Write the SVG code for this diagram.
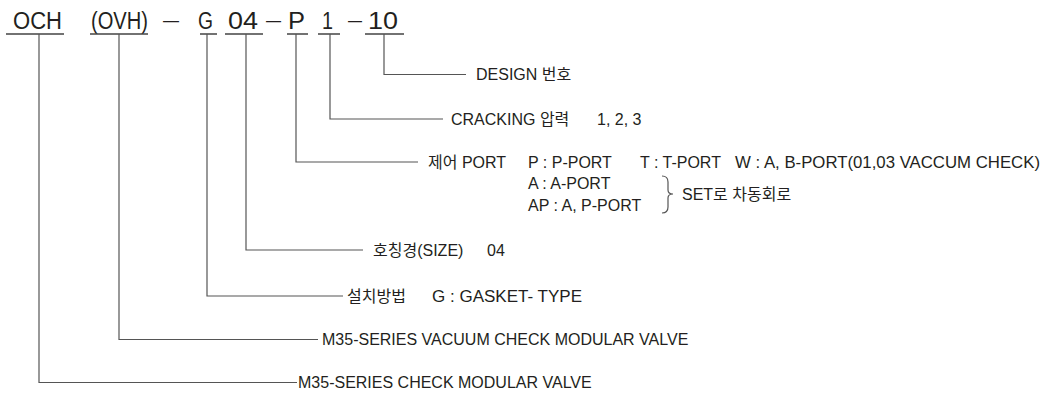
<svg xmlns="http://www.w3.org/2000/svg" width="1055" height="400" viewBox="0 0 1055 400">
<style>
.bg{fill:#fff}
.code{font-family:"Liberation Sans",Arial,sans-serif;font-size:23px;fill:#231f20}
.dash{font-family:"Liberation Sans",Arial,sans-serif;font-size:17px;fill:#231f20}
.lbl{font-family:"Liberation Sans","Noto Sans CJK KR",sans-serif;font-size:16px;fill:#231f20}
.ln{stroke:#555;stroke-width:1.2;fill:none}
.ul{stroke:#444;stroke-width:1.3;fill:none}
</style>
<rect class="bg" x="0" y="0" width="1055" height="400"/>
<g id="code">
<text class="code" x="13" y="29" textLength="49" lengthAdjust="spacingAndGlyphs">OCH</text>
<text class="code" x="91" y="29" textLength="57" lengthAdjust="spacingAndGlyphs">(OVH)</text>
<text class="dash" x="163" y="26" textLength="16" lengthAdjust="spacingAndGlyphs">—</text>
<text class="code" x="198" y="29" textLength="15" lengthAdjust="spacingAndGlyphs">G</text>
<text class="code" x="228" y="29" textLength="30" lengthAdjust="spacingAndGlyphs">04</text>
<text class="dash" x="266" y="26" textLength="15" lengthAdjust="spacingAndGlyphs">—</text>
<text class="code" x="288" y="29" textLength="17" lengthAdjust="spacingAndGlyphs">P</text>
<text class="code" x="322" y="29" textLength="11" lengthAdjust="spacingAndGlyphs">1</text>
<text class="dash" x="348" y="26" textLength="14" lengthAdjust="spacingAndGlyphs">—</text>
<text class="code" x="368" y="29" textLength="30" lengthAdjust="spacingAndGlyphs">10</text>
<path class="ul" d="M6 34H64M90 34H148M200 34H217M225 34H263M287 34H308M318 34H340M365 34H404"/>
</g>
<g id="connectors">
<path class="ln" d="M384 34V74.5H466"/>
<path class="ln" d="M330 34V119H443"/>
<path class="ln" d="M296 34V162H418"/>
<path class="ln" d="M246 34V250H363"/>
<path class="ln" d="M207 34V296H343"/>
<path class="ln" d="M119 34V339.5H318"/>
<path class="ln" d="M39 34V382.5H297"/>
</g>
<g id="design">
<text class="lbl" x="476" y="80">DESIGN 번호</text>
</g>
<g id="cracking">
<text class="lbl" x="451" y="125">CRACKING 압력</text>
<text class="lbl" x="597" y="125">1, 2, 3</text>
</g>
<g id="port">
<text class="lbl" x="428" y="167.5">제어 PORT</text>
<text class="lbl" x="528" y="167.5">P : P-PORT</text>
<text class="lbl" x="640" y="167.5">T : T-PORT</text>
<text class="lbl" x="735" y="167.5" textLength="305" lengthAdjust="spacingAndGlyphs">W : A, B-PORT(01,03 VACCUM CHECK)</text>
<text class="lbl" x="528" y="189">A : A-PORT</text>
<text class="lbl" x="528" y="210.5">AP : A, P-PORT</text>
<path class="ln" d="M662 176Q668 176 668 182V190Q668 194 673 194Q668 194 668 198V207Q668 213 662 213"/>
<text class="lbl" x="682" y="200">SET로 차동회로</text>
</g>
<g id="size">
<text class="lbl" x="373" y="256">호칭경(SIZE)</text>
<text class="lbl" x="487" y="256">04</text>
</g>
<g id="mount">
<text class="lbl" x="347" y="302">설치방법</text>
<text class="lbl" x="432" y="302" textLength="150" lengthAdjust="spacingAndGlyphs">G : GASKET- TYPE</text>
</g>
<g id="vacuum">
<text class="lbl" x="322" y="345">M35-SERIES VACUUM CHECK MODULAR VALVE</text>
</g>
<g id="check">
<text class="lbl" x="298" y="388">M35-SERIES CHECK MODULAR VALVE</text>
</g>
</svg>
